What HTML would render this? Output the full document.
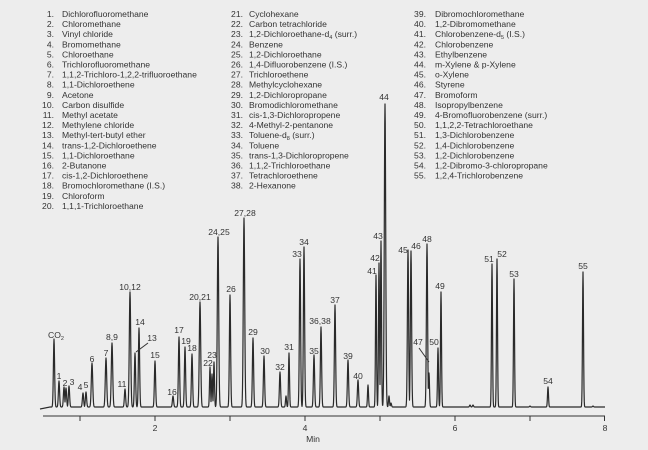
<!DOCTYPE html>
<html><head><meta charset="utf-8"><style>
html,body{margin:0;padding:0;background:#ededed;}
svg{display:block;}
text{font-family:"Liberation Sans",sans-serif;fill:#333;}
.lg{font-size:8.6px;}
.pk{font-size:8.6px;text-anchor:middle;}
</style></head><body>
<svg id="s" width="648" height="450" viewBox="0 0 648 450" xmlns="http://www.w3.org/2000/svg">
<rect width="648" height="450" fill="#ededed"/>
<g id="legend" class="lg"></g>
<path id="trace" fill="none" stroke="#2a2a2a" stroke-width="1.2" stroke-linejoin="round"/>
<line x1="43" y1="416" x2="605" y2="416" stroke="#333" stroke-width="1"/>
<g stroke="#333" stroke-width="1">
<line x1="80" y1="416" x2="80" y2="421"/><line x1="155" y1="416" x2="155" y2="421"/>
<line x1="230" y1="416" x2="230" y2="421"/><line x1="305" y1="416" x2="305" y2="421"/>
<line x1="380" y1="416" x2="380" y2="421"/><line x1="455" y1="416" x2="455" y2="421"/>
<line x1="530" y1="416" x2="530" y2="421"/><line x1="604.5" y1="416" x2="604.5" y2="421"/>
<line x1="136" y1="352" x2="148" y2="343"/><line x1="419" y1="348" x2="429" y2="362"/>
</g>
<g class="pk">
<text x="155" y="431">2</text><text x="305" y="431">4</text><text x="455" y="431">6</text><text x="605" y="431">8</text>
<text x="313" y="442">Min</text>
</g>
<g id="labels" class="pk"></g>
</svg>
<script>
var L=[
["1.","Dichlorofluoromethane"],["2.","Chloromethane"],["3.","Vinyl chloride"],["4.","Bromomethane"],["5.","Chloroethane"],["6.","Trichlorofluoromethane"],["7.","1,1,2-Trichloro-1,2,2-trifluoroethane"],["8.","1,1-Dichloroethene"],["9.","Acetone"],["10.","Carbon disulfide"],["11.","Methyl acetate"],["12.","Methylene chloride"],["13.","Methyl-tert-butyl ether"],["14.","trans-1,2-Dichloroethene"],["15.","1,1-Dichloroethane"],["16.","2-Butanone"],["17.","cis-1,2-Dichloroethene"],["18.","Bromochloromethane (I.S.)"],["19.","Chloroform"],["20.","1,1,1-Trichloroethane"]];
var M=[["21.","Cyclohexane"],["22.","Carbon tetrachloride"],["23.","1,2-Dichloroethane-d<tspan font-size='5.5' dy='2'>4</tspan><tspan dy='-2'> (surr.)</tspan>"],["24.","Benzene"],["25.","1,2-Dichloroethane"],["26.","1,4-Difluorobenzene (I.S.)"],["27.","Trichloroethene"],["28.","Methylcyclohexane"],["29.","1,2-Dichloropropane"],["30.","Bromodichloromethane"],["31.","cis-1,3-Dichloropropene"],["32.","4-Methyl-2-pentanone"],["33.","Toluene-d<tspan font-size='5.5' dy='2'>8</tspan><tspan dy='-2'> (surr.)</tspan>"],["34.","Toluene"],["35.","trans-1,3-Dichloropropene"],["36.","1,1,2-Trichloroethane"],["37.","Tetrachloroethene"],["38.","2-Hexanone"]];
var N=[["39.","Dibromochloromethane"],["40.","1,2-Dibromomethane"],["41.","Chlorobenzene-d<tspan font-size='5.5' dy='2'>5</tspan><tspan dy='-2'> (I.S.)</tspan>"],["42.","Chlorobenzene"],["43.","Ethylbenzene"],["44.","m-Xylene &amp; p-Xylene"],["45.","o-Xylene"],["46.","Styrene"],["47.","Bromoform"],["48.","Isopropylbenzene"],["49.","4-Bromofluorobenzene (surr.)"],["50.","1,1,2,2-Tetrachloroethane"],["51.","1,3-Dichlorobenzene"],["52.","1,4-Dichlorobenzene"],["53.","1,2-Dichlorobenzene"],["54.","1,2-Dibromo-3-chloropropane"],["55.","1,2,4-Trichlorobenzene"]];
var h="";
function col(a,nx,tx){a.forEach(function(r,i){var y=17+i*10.1;h+="<text x='"+nx+"' y='"+y+"' text-anchor='end'>"+r[0]+"</text><text x='"+tx+"' y='"+y+"'>"+r[1]+"</text>";});}
col(L,54,62);col(M,243,249);col(N,426,435);
document.getElementById("legend").innerHTML=h;
// peaks: x, top y, sigma
var P=[[54,339,.6],[59,381,.6],[64,387,.6],[66,388,.6],[69,386,.6],[83,393,.6],[86,392,.6],[92,363,.7],[106,358,.7],[112,343,.7],[125,389,.6],[130,292,.7],[135,353,.6],[139,328,.6],[155,361,.6],[173,396,.6],[179,337,.6],[185,347,.6],[192,354,.6],[200,302,.7],[210,367,.5],[212,374,.5],[214,362,.5],[218,237,.7],[230,295,.6],[244,218,.7],[253,338,.6],[264,356,.6],[280,372,.6],[286,396,.5],[289,353,.5],[300,259,.6],[304,247,.6],[314,355,.6],[321,327,.6],[335,305,.6],[348,360,.6],[358,380,.6],[368,385,.5],[376,275,.5],[379,263,.5],[381,241,.5],[385,104,.7],[389,396,.5],[391,403,.5],[408,250,.6],[411,251,.6],[427,244,.6],[429,373,.5],[438,348,.5],[441,292,.5],[470,405,.5],[473,405,.5],[492,264,.5],[497,259,.5],[514,279,.5],[530,406,.5],[548,387,.5],[583,272,.5],[593,406,.5]];
var d="";
for(var x=40;x<=605;x+=0.25){var b=407;if(x<50)b=409-(x-40)*0.2;var m=0;P.forEach(function(p){var v=(b-p[1])*Math.exp(-(x-p[0])*(x-p[0])/(2*p[2]*p[2]));if(v>m)m=v;});d+=(d?"L":"M")+x.toFixed(2)+" "+(b-m).toFixed(2);}
document.getElementById("trace").setAttribute("d",d);
var T=[["CO<tspan font-size='5.5' dy='2'>2</tspan>",56,338],["1",59,379],["2",65,386],["3",72,385],["4",80,390],["5",86,388],["6",92,362],["7",106,356],["8,9",112,340],["10,12",130,290],["11",122,387],["14",140,325],["13",152,341],["15",155,358],["16",172,395],["17",179,333],["19",186,344],["18",192,351],["20,21",200,300],["22",208,366],["23",212,358],["24,25",219,235],["26",231,292],["27,28",245,216],["29",253,335],["30",265,354],["32",280,370],["31",289,350],["33",297,257],["34",304,245],["35",314,354],["36,38",320,324],["37",335,303],["39",348,359],["40",358,379],["41",372,274],["42",375,261],["43",378,239],["44",384,100],["45",403,253],["46",416,249],["48",427,242],["47",418,345],["50",434,345],["49",440,289],["51",489,262],["52",502,257],["53",514,277],["54",548,384],["55",583,269]];
var g="";T.forEach(function(t){g+="<text x='"+t[1]+"' y='"+t[2]+"'>"+t[0]+"</text>";});
document.getElementById("labels").innerHTML=g;
</script>
</body></html>
